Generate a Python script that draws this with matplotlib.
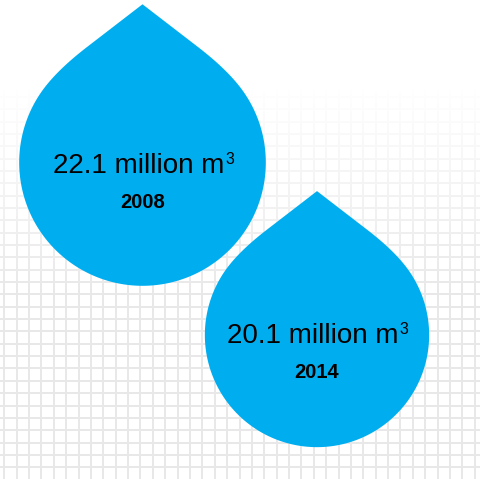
import numpy as np
import matplotlib
matplotlib.use("Agg")
import matplotlib.pyplot as plt
from matplotlib.patches import Polygon

# ── Data ──────────────────────────────────────────────────────────────────────
values = [22.1, 20.1]                 # million m3
years = ["2008", "2014"]
unit = "million m"
unit_sup = "3"

# ── Layout (pixels, y downwards) ──────────────────────────────────────────────
W, H = 481, 479
centers = [(142.5, 162.5), (317.0, 335.0)]
px_per_unit = 5.58                   # drop radius per million m3
label_base = [172.7, 342.7]
year_base = [207.7, 377.7]

DROP_BLUE = "#00AEEF"
GRID_GREY = "#e8e8e8"

fig = plt.figure(figsize=(W / 100, H / 100), dpi=100)
ax = fig.add_axes([0, 0, 1, 1])
ax.set_xlim(0, W)
ax.set_ylim(H, 0)
ax.axis("off")

# ── Background grid, fading out towards the top ───────────────────────────────
for x in np.arange(4.3, W, 12.38):
    ax.plot([x, x], [90, H], color=GRID_GREY, lw=1.4, zorder=1)
for y in np.arange(96.8, H, 12.35):
    ax.plot([0, W], [y, y], color=GRID_GREY, lw=1.4, zorder=1)

fade = np.ones((200, 1, 4))
fade[:, 0, 3] = np.linspace(1, 0, 200)
ax.imshow(fade, extent=(0, W, 300, 85), origin="upper", aspect="auto",
          zorder=2, interpolation="bilinear")

# ── Drop shape (unit radius, y downwards, left half then mirrored) ────────────
TIP_Y = -1.283
SLOPE = 0.77              # tip sides fall 0.77 per unit sideways
JOIN = np.radians(55)     # where the shoulder meets the round body
STRAIGHT = 0.45           # length (in x) of the straight part at the tip

def unit_drop():
    tip = np.array([0.0, TIP_Y])
    p1 = tip + STRAIGHT * np.array([-1.0, SLOPE])
    j = np.array([-np.sin(JOIN), -np.cos(JOIN)])
    tdir = np.array([np.cos(JOIN), -np.sin(JOIN)])
    # control point: tip line meets the circle tangent at the join
    A = np.array([[-1.0, -tdir[0]], [SLOPE, -tdir[1]]])
    t, u = np.linalg.solve(A, j - tip)
    c = tip + t * np.array([-1.0, SLOPE])
    s = np.linspace(0, 1, 40)[:, None]
    shoulder = (1 - s) ** 2 * p1 + 2 * (1 - s) * s * c + s ** 2 * j
    th = np.linspace(JOIN, np.pi, 120)
    body = np.column_stack([-np.sin(th), -np.cos(th)])
    left = np.vstack([tip, shoulder, body])            # tip -> bottom, left side
    right = left[::-1][1:-1] * np.array([-1, 1])       # mirror bottom -> tip
    return np.vstack([left, right])

shape = unit_drop()

for val, yr, (cx, cy), lb, yb in zip(values, years, centers, label_base, year_base):
    r = val * px_per_unit
    pts = shape * r + np.array([cx, cy])
    ax.add_patch(Polygon(pts, closed=True, facecolor=DROP_BLUE,
                         edgecolor="none", zorder=3))

    t = ax.text(cx - 4, lb, f"{val:.1f} {unit}", ha="center", va="baseline",
                fontsize=20, family="Liberation Sans", color="black", zorder=4)
    fig.canvas.draw()
    bb = t.get_window_extent().transformed(ax.transData.inverted())
    ax.text(bb.x1 + 1, lb - 20.5, unit_sup, ha="left", va="top",
            fontsize=11.5, family="Liberation Sans", color="black", zorder=4)

    ax.text(cx, yb, yr, ha="center", va="baseline", fontsize=14.5,
            family="Liberation Sans", fontweight="bold", color="black", zorder=4)

fig.savefig("out.png", dpi=100)
